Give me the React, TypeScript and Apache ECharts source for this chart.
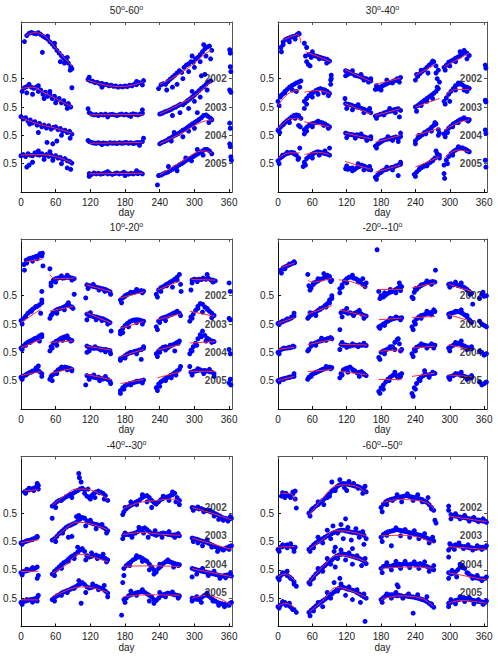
import React, { useEffect, useRef } from "react";
import * as echarts from "echarts";

// ---------------- data ----------------
// Every segment: [firstDay, v, v, v ...] sampled every STEP_DAYS days.
// v = deviation from the year's "0.5" reference line, in hundredths of the tick spacing.
const STEP_DAYS = 4;
const years = ["2002", "2003", "2004", "2005"];
const yearBase = [4, 3, 2, 1];
const yTickValues = [1, 2, 3, 4];
const yTickLabels = ["0.5", "0.5", "0.5", "0.5"];
const xTickValues = [0, 60, 120, 180, 240, 300, 360];
const panelTitles = [["50", "60"], ["30", "40"], ["10", "20"], ["-20", "-10"], ["-40", "-30"], ["-60", "-50"]];

// ---- 50-60 ----
const n50_2002 = [
  [6, 131, 152, 160, 163, 160, 158, 162, 156, 150, 145, 140, 130, 122, 112, 100, 90, 80, 72, 65, 55, 42],
  [116, -3, -8, -9, -14, -13, -18, -17, -21, -20, -25, -23, -27, -26, -30, -27, -29, -26, -28, -23, -25, -19, -21, -14, -15, -7],
  [238, -35, -22, -18, -20, -10, -2, 5, 12, 20, 28, 22, 40, 48, 52, 60, 58, 70, 75, 85, 95, 105, 112, 115, 100],
];
const n50_2002_extra = [[37, 93], [68, 60], [85, 30], [88, 35], [46, 150], [58, 125], [75, 55], [80, 75], [262, -30], [270, -20], [280, 0], [290, 25], [300, 40], [310, 60], [320, 80], [328, 70], [252, -40], [296, 80], [316, 120], [361, 102], [362, 90], [362, 42], [363, 25], [118, 5], [140, -30], [200, -10], [210, -22]];
const n50_2002_fit = [
  [[8, 150], [22, 162], [38, 155], [55, 120], [72, 80], [88, 45]],
  [[115, -5], [140, -20], [170, -28], [195, -22], [212, -10]],
  [[240, -20], [260, 0], [280, 25], [300, 55], [320, 90], [330, 100]],
];
const n50_2003 = [
  [2, 55, 68, 72, 80, 70, 66, 70, 55, 60, 45, 52, 38, 44, 30, 38, 25, 30, 15, 22, 10, 12, 0],
  [118, -20, -25, -28, -27, -30, -26, -28, -25, -29, -27, -26, -28, -30, -27, -25, -28, -26, -29, -27, -24, -26, -28, -25, -22],
  [240, -25, -22, -18, -15, -12, -8, -3, 0, 5, 10, 8, 15, 22, 28, 35, 42, 50, 58, 66, 72, 80, 88, 92],
];
const n50_2003_extra = [[20, 45], [40, 30], [60, 15], [80, -5], [50, 55], [88, 68], [30, 75], [10, 50], [116, -6], [210, -10], [150, -35], [190, -33], [262, -30], [275, -20], [290, -5], [300, 20], [310, 35], [312, 110], [318, 115], [322, 60], [296, 55], [361, 60], [363, 52]];
const n50_2003_fit = [
  [[0, 65], [20, 70], [40, 50], [60, 30], [88, 0]],
  [[118, -28], [210, -26]],
  [[240, -25], [270, 5], [300, 40], [330, 92]],
];
const n50_2004 = [
  [0, 66, 58, 62, 50, 54, 44, 48, 36, 42, 30, 36, 26, 34, 22, 28, 30, 20, 24, 14, 18, 10, 14, 4],
  [118, -22, -25, -27, -28, -26, -29, -27, -28, -30, -26, -28, -27, -29, -26, -28, -27, -25, -28, -26, -29, -27, -25, -26, -22],
  [240, -30, -25, -22, -18, -12, -8, -2, 2, 6, 12, 18, 22, 28, 34, 40, 45, 50, 56, 62, 70, 72, 66, 60],
];
const n50_2004_extra = [[45, -25], [55, -30], [62, -20], [30, 10], [70, 0], [85, -10], [15, 40], [116, -18], [212, -10], [205, -35], [140, -33], [260, -20], [280, -5], [300, 25], [305, 80], [325, 45], [330, 55], [290, 15], [265, 10], [361, 43], [362, 25]];
const n50_2004_fit = [
  [[0, 63], [30, 40], [60, 25], [88, 8]],
  [[118, -28], [160, -27], [210, -25]],
  [[240, -30], [280, 10], [310, 45], [332, 55]],
];
const n50_2005 = [
  [0, 28, 32, 25, 35, 30, 28, 38, 32, 30, 35, 28, 32, 26, 30, 24, 28, 20, 22, 15, 18, 10, 8, 2],
  [118, -35, -38, -33, -36, -34, -37, -35, -32, -36, -34, -38, -35, -33, -36, -34, -30, -35, -37, -34, -36, -33, -35, -32, -36],
  [238, -42, -40, -36, -32, -30, -24, -20, -14, -10, -4, 0, 6, 12, 16, 20, 25, 30, 35, 40, 45, 50, 50, 45, 35],
];
const n50_2005_extra = [[10, -12], [14, -5], [20, 5], [40, 15], [55, 12], [70, 0], [80, -15], [86, -20], [30, 45], [50, 42], [118, -45], [200, -25], [150, -28], [180, -42], [236, -75], [255, -10], [270, -25], [285, 20], [295, 10], [305, 50], [315, 30], [361, 70], [362, 60], [363, 24], [364, 12]];
const n50_2005_fit = [
  [[0, 30], [30, 32], [60, 25], [88, 2]],
  [[118, -36], [210, -34]],
  [[240, -40], [280, 10], [315, 45], [330, 38]],
];

// ---- 30-40 ----
const n30_2002 = [
  [5, 110, 130, 138, 142, 145, 148, 150, 155, 158],
  [46, 125, 110, 85, 75, 82, 80, 78, 75, 72, 70, 68, 62],
  [118, 28, 25, 20, 18, 12, 10, 8, 5, 2, 0, -5, -8],
  [170, -38, -36, -30, -26, -22, -18, -14, -12, -8, -6, -2, 4],
  [240, -5, 8, 18, 26, 32, 40, 48, 55, 60, 45, 30],
  [290, 40, 48, 58, 62, 66, 72, 76, 80, 88, 95, 90, 82],
];
const n30_2002_extra = [[6, 95], [9, 120], [20, 130], [30, 140], [36, 160], [50, 60], [53, 50], [56, 45], [48, 80], [60, 95], [72, 70], [85, 55], [88, 62], [93, 0], [93, 12], [118, 10], [122, 15], [130, 28], [145, 15], [150, -5], [158, -12], [162, 0], [172, -25], [180, -40], [190, -5], [200, -15], [208, 0], [212, -12], [242, 15], [250, 30], [262, 20], [270, 62], [278, 0], [282, -12], [276, 20], [292, 30], [300, 45], [310, 60], [318, 95], [325, 100], [330, 70], [362, 48], [363, 37]];
const n30_2002_fit = [
  [[8, 135], [25, 150], [35, 155], [40, 125]],
  [[48, 95], [70, 78], [92, 60]],
  [[117, 32], [162, -10]],
  [[170, -20], [214, 2]],
  [[240, 12], [275, 50]],
  [[290, 42], [334, 90]],
];
const n30_2003 = [
  [0, 20, 35, 45, 55, 62, 70, 75, 80, 85, 88, 92],
  [46, 20, 30, 40, 48, 52, 58, 62, 65, 62, 60, 55, 48],
  [118, 12, 10, 8, 5, 2, 0, -2, -5, -8, -12, -15, -20],
  [170, -32, -30, -26, -24, -20, -18, -15, -14, -10, -8, -6, -12],
  [240, 0, 5, 12, 18, 24, 30, 36, 42, 48, 55, 65],
  [290, 20, 32, 45, 55, 65, 75, 80, 82, 78, 72, 70, 66],
];
const n30_2003_extra = [[2, 5], [5, 40], [12, 50], [25, 60], [32, 55], [38, 70], [46, -5], [50, 10], [60, 35], [70, 45], [80, 50], [88, 40], [92, 95], [92, 80], [117, 30], [120, -5], [130, -10], [140, 8], [150, -20], [160, -5], [172, -40], [185, -28], [195, -5], [205, -20], [212, -35], [242, -15], [250, 5], [260, 20], [270, 30], [278, 70], [292, 10], [300, 20], [310, 60], [315, 85], [325, 60], [330, 55], [362, 24], [363, 18]];
const n30_2003_fit = [
  [[0, 5], [20, 50], [38, 60]],
  [[46, 52], [70, 58], [92, 48]],
  [[117, 12], [162, -24]],
  [[170, -30], [214, -6]],
  [[240, 0], [282, 30]],
  [[290, 35], [310, 62], [334, 62]],
];
const n30_2004 = [
  [0, 18, 28, 36, 45, 52, 58, 65, 70, 72, 70, 60],
  [46, 20, 28, 35, 40, 42, 45, 48, 46, 44, 40, 35, 30],
  [118, 8, 5, 3, 2, 0, 2, -2, -4, -5, -8, -10, -12],
  [170, -38, -32, -26, -20, -16, -14, -12, -10, -8, -6, -12, -4],
  [240, -20, -10, -4, 2, 10, 15, 20, 28, 35, 40, 20],
  [290, 5, 15, 25, 32, 40, 45, 50, 55, 58, 58, 56, 55],
];
const n30_2004_extra = [[3, 10], [10, 40], [20, 45], [30, 60], [36, 35], [39, 30], [46, 5], [50, 15], [60, 30], [70, 50], [80, 35], [88, 25], [120, -8], [135, -10], [145, 5], [155, -18], [162, -5], [172, -45], [180, -20], [192, -5], [200, -18], [210, -22], [214, 8], [240, -30], [246, 0], [258, 5], [268, 15], [274, 45], [280, 0], [282, 8], [292, -5], [296, 10], [305, 30], [315, 45], [325, 62], [332, 50], [362, 19], [363, 7]];
const n30_2004_fit = [
  [[0, 22], [25, 60], [40, 55]],
  [[46, 48], [90, 30]],
  [[117, 8], [162, -12]],
  [[170, -24], [214, 0]],
  [[240, 0], [282, 25]],
  [[290, 18], [315, 45], [334, 55]],
];
const n30_2005 = [
  [0, 10, 20, 26, 32, 36, 38, 40, 38, 30, 20],
  [46, 5, 18, 25, 32, 36, 40, 42, 40, 38, 36, 34, 30],
  [118, -18, -20, -17, -15, -20, -14, -10, -5, -8, -12, -20, -22],
  [170, -48, -40, -32, -26, -22, -20, -16, -14, -12, -8, -5, -2],
  [238, -38, -30, -22, -15, -10, -6, 0, 5, 12, 20, 35, 30],
  [290, -5, 12, 25, 35, 42, 48, 52, 55, 56, 52, 48, 42],
];
const n30_2005_extra = [[2, 0], [8, 30], [16, 40], [28, 35], [35, 15], [38, 55], [44, -10], [48, -5], [60, 20], [72, 30], [82, 45], [90, 55], [120, -8], [130, -25], [140, 0], [150, -22], [160, -10], [172, -55], [180, -30], [190, -12], [200, -22], [210, -42], [214, 5], [240, -45], [248, -15], [260, -8], [270, 10], [276, 45], [282, 20], [290, -35], [291, -52], [296, 0], [305, 30], [315, 60], [330, 45], [362, 12], [363, -12]];
const n30_2005_fit = [
  [[0, 18], [20, 38], [38, 38]],
  [[46, 32], [70, 40], [90, 32]],
  [[117, 8], [162, -20]],
  [[170, -30], [214, -5]],
  [[240, -12], [282, 24]],
  [[290, 20], [315, 48], [334, 42]],
];

// ---- 10-20 ----
const n10_2002 = [
  [5, 110, 125, 130, 132, 135, 138, 140, 148, 150],
  [52, 45, 55, 60, 62, 64, 62, 63, 65, 64, 62, 60],
  [114, 38, 35, 34, 32, 30, 28, 26, 24, 22, 18, 14],
  [172, -15, -8, -2, 4, 8, 10, 12, 14, 16, 18, 16],
  [234, 5, 20, 28, 32, 38, 42, 48, 52, 58, 65, 75],
  [296, 55, 58, 56, 58, 57, 60, 58, 62, 56, 55, 52],
];
const n10_2002_extra = [[6, 90], [10, 115], [20, 122], [28, 130], [36, 140], [38, 105], [36, 15], [50, 95], [52, 35], [60, 48], [70, 70], [80, 72], [88, 55], [92, 5], [112, -8], [116, 25], [125, 40], [135, 20], [145, 15], [155, 5], [174, -25], [180, 0], [190, 12], [200, 22], [210, 10], [236, -5], [242, 15], [252, 35], [262, 30], [270, 55], [276, 40], [277, 15], [294, 20], [296, 45], [305, 50], [315, 62], [322, 75], [332, 48], [360, 45], [362, 15]];
const n10_2002_fit = [
  [[8, 120], [36, 128]],
  [[50, 75], [58, 60], [92, 62]],
  [[113, 38], [156, 14]],
  [[172, -8], [213, 14]],
  [[236, 20], [275, 52]],
  [[295, 57], [336, 55]],
];
const n10_2003 = [
  [0, 12, 18, 28, 38, 45, 52, 58, 62, 68, 75],
  [52, 30, 42, 48, 52, 55, 58, 62, 68, 64, 60],
  [114, 35, 30, 28, 26, 25, 22, 20, 18, 14, 10, 5],
  [172, -25, -15, -5, 2, 8, 12, 14, 15, 14, 12, 10],
  [234, -10, 10, 18, 22, 25, 28, 32, 36, 40, 42, 38],
  [294, 25, 35, 48, 62, 72, 70, 60, 52, 45, 38, 30],
];
const n10_2003_extra = [[2, 0], [8, 25], [18, 45], [26, 62], [34, 38], [36, 85], [50, 20], [54, 35], [62, 38], [75, 50], [82, 75], [90, 55], [114, 15], [120, 40], [130, 15], [140, 12], [150, 0], [156, -25], [172, -35], [176, -30], [186, -10], [200, 5], [210, 0], [236, -20], [240, 5], [250, 12], [262, 35], [270, 45], [276, 30], [292, 10], [296, 20], [306, 55], [314, 42], [322, 55], [330, 22], [360, 20], [362, 15]];
const n10_2003_fit = [
  [[0, 5], [34, 52]],
  [[50, 45], [90, 62]],
  [[113, 40], [156, 3]],
  [[172, -15], [212, 9]],
  [[236, 15], [276, 36]],
  [[292, 45], [335, 27]],
];
const n10_2004 = [
  [0, 15, 22, 30, 36, 40, 44, 48, 52, 58, 62],
  [52, 20, 32, 38, 42, 48, 52, 55, 50, 46, 42],
  [114, 22, 18, 15, 14, 15, 13, 12, 10, 10, 8, 6],
  [172, -22, -18, -12, -6, -2, 0, 3, 5, 8, 10, 14],
  [234, -5, 5, 12, 18, 20, 16, 22, 26, 30, 35, 40],
  [294, 8, 20, 32, 48, 62, 75, 60, 50, 45, 40, 38],
];
const n10_2004_extra = [[2, 10], [8, 25], [16, 35], [24, 48], [32, 40], [36, 55], [50, 5], [54, 15], [62, 25], [72, 42], [80, 58], [86, 40], [114, 0], [118, 5], [128, 20], [138, 8], [146, 2], [155, -5], [172, -28], [180, -20], [190, 0], [200, -5], [208, -25], [212, 20], [236, -15], [240, 0], [250, 8], [258, 25], [266, 5], [272, 32], [292, -5], [296, 5], [304, 25], [312, 55], [320, 40], [330, 35], [360, 10], [362, -5]];
const n10_2004_fit = [
  [[0, 16], [34, 45]],
  [[50, 35], [90, 40]],
  [[113, 22], [156, 8]],
  [[172, -15], [212, 10]],
  [[236, 8], [275, 27]],
  [[292, 33], [335, 38]],
];
const n10_2005 = [
  [0, 12, 16, 20, 26, 30, 34, 36, 40, 32, 25],
  [52, 15, 22, 30, 38, 42, 45, 48, 46, 44, 40],
  [114, 18, 15, 14, 12, 10, 12, 8, 6, 8, 4, -2],
  [172, -35, -25, -18, -14, -10, -8, -6, -4, -2, 0, 2],
  [234, -25, -12, -4, 2, 8, 12, 18, 22, 28, 34, 40],
  [294, 30, 32, 34, 36, 38, 35, 36, 34, 32, 30, 25],
];
const n10_2005_extra = [[2, 5], [10, 22], [18, 30], [26, 45], [30, 52], [36, 15], [50, 5], [54, 0], [62, 25], [70, 48], [80, 38], [88, 35], [112, -15], [118, 5], [126, 20], [136, 0], [146, 15], [155, -10], [172, -45], [178, -30], [190, -15], [200, -2], [210, -8], [236, -35], [240, -20], [250, 0], [260, 10], [268, 20], [276, 50], [292, 50], [296, 20], [306, 42], [316, 25], [326, 40], [334, 15], [360, -8], [362, 5], [363, -15]];
const n10_2005_fit = [
  [[0, 18], [34, 32]],
  [[50, 25], [90, 44]],
  [[113, 22], [156, 4]],
  [[172, -10], [212, 4]],
  [[236, 10], [276, 32]],
  [[292, 33], [335, 33]],
];

// ---- -20 - -10 ----
const s10_2002 = [
  [5, 90, 98, 102, 106, 110, 114, 116],
  [54, 35, 28, 40, 48, 52, 58, 60, 65, 72, 68, 55],
  [108, 25, 38, 52, 60, 65, 66, 62, 60, 55, 48, 40, 32],
  [176, 15, 0, -5, 2, 8, 12, 15, 20, 25, 30, 32],
  [234, -5, 12, 22, 30, 36, 40, 44, 46, 48, 50, 48],
  [298, 40, 42, 38, 40, 36, 34, 32, 28, 22, 15, 8],
  [352, -10, 5, -2, 0],
];
const s10_2002_extra = [[6, 80], [12, 95], [20, 112], [28, 120], [52, 75], [56, 20], [62, 45], [70, 60], [80, 78], [88, 62], [92, 50], [108, 10], [112, 30], [120, 45], [130, 72], [140, 50], [148, 60], [154, 45], [173, 162], [178, -10], [186, 10], [196, 22], [206, 10], [212, 45], [214, 18], [236, -10], [240, 25], [250, 38], [260, 52], [268, 40], [275, 90], [300, 30], [310, 48], [320, 45], [330, 20], [340, -30], [335, 5], [358, 12]];
const s10_2002_fit = [
  [[6, 100], [29, 115]],
  [[52, 54], [60, 48], [94, 62]],
  [[106, 56], [130, 48], [155, 27]],
  [[176, 22], [216, 22]],
  [[234, 27], [274, 45]],
  [[298, 40], [338, 15]],
];
const s10_2003 = [
  [0, 2, 5, 8, 12, 15, 18, 22, 28],
  [54, 25, 32, 38, 42, 48, 52, 58, 65, 72, 85, 100],
  [110, 40, 45, 42, 38, 40, 35, 38, 42, 40, 35, 30, 28],
  [176, -10, -6, 0, 5, 10, 15, 18, 20, 22, 20, 22],
  [234, -10, 8, 18, 25, 30, 32, 35, 38, 40, 42, 44],
  [298, 35, 38, 40, 42, 44, 42, 38, 32, 25, 15, 5],
  [352, 10, 0, -5, -10],
];
const s10_2003_extra = [[2, -2], [8, 10], [16, 18], [24, 25], [28, 38], [52, 20], [56, 40], [66, 30], [74, 55], [84, 60], [90, 75], [94, 90], [108, -20], [112, 25], [120, 55], [132, 30], [142, 48], [150, 20], [178, -15], [186, -5], [196, 20], [206, 25], [214, 15], [236, -20], [240, 0], [250, 20], [260, 45], [268, 32], [272, 50], [300, 25], [310, 45], [320, 50], [330, 30], [336, 10]];
const s10_2003_fit = [
  [[0, 2], [28, 22]],
  [[52, 35], [94, 65]],
  [[108, 50], [155, 27]],
  [[176, 15], [216, 21]],
  [[234, 22], [274, 27]],
  [[298, 33], [338, 9]],
];
const s10_2004 = [
  [0, 0, 8, 12, 14, 15, 16, 18, 20],
  [54, 10, 22, 30, 34, 38, 40, 42, 45, 48, 50, 48],
  [110, 28, 25, 26, 24, 22, 25, 26, 24, 27, 25, 26, 24],
  [176, -18, 0, 5, 8, 12, 15, 20, 35, 45, 30, 10],
  [234, -5, 10, 18, 22, 25, 26, 24, 22, 24, 26, 25],
  [298, 15, 20, 25, 30, 32, 30, 25, 22, 18, 15, 12],
  [352, 5, 0, -10, -5],
];
const s10_2004_extra = [[2, -5], [10, 15], [20, 18], [26, 22], [52, 5], [58, 30], [66, 25], [76, 50], [84, 42], [92, 52], [108, 10], [112, 35], [120, 18], [130, 30], [140, 20], [150, 32], [178, -25], [186, -5], [196, 20], [204, 10], [210, 48], [214, 5], [236, -15], [240, 5], [250, 30], [260, 15], [268, 30], [272, 15], [300, 5], [310, 35], [320, 40], [330, 10], [338, 20]];
const s10_2004_fit = [
  [[0, 10], [28, 18]],
  [[52, 27], [94, 45]],
  [[108, 28], [155, 26]],
  [[176, 4], [216, 9]],
  [[234, 15], [274, 22]],
  [[298, 27], [338, 9]],
];
const s10_2005 = [
  [0, 0, 3, 6, 8, 10, 12, 14, 25],
  [54, 12, 20, 25, 28, 32, 36, 40, 42, 45, 48, 46],
  [110, 25, 38, 42, 45, 48, 40, 35, 28, 30, 32, 25, 18],
  [176, -38, -25, -15, -5, 5, 12, 18, 22, 15, 20, 25],
  [234, -45, -25, -10, 5, 12, 18, 22, 20, 22, 25, 26],
  [298, 12, 15, 18, 22, 24, 20, 18, 15, 12, 10, 10],
  [352, -5, -15, -10, -5],
];
const s10_2005_extra = [[2, -5], [10, 5], [20, 12], [28, 15], [52, 5], [58, 15], [66, 30], [76, 38], [84, 50], [92, 42], [108, 10], [112, 20], [122, 30], [132, 35], [142, 15], [150, 22], [178, -45], [184, -30], [194, 0], [204, 30], [210, 10], [214, 15], [236, -55], [240, -30], [248, 0], [256, 35], [264, 12], [270, 30], [300, 5], [310, 25], [320, 30], [330, 5], [338, 18]];
const s10_2005_fit = [
  [[0, 0], [28, 15]],
  [[52, 32], [94, 39]],
  [[108, 33], [155, 21]],
  [[176, 4], [216, 4]],
  [[234, 15], [274, 27]],
  [[298, 20], [338, 14]],
];

// ---- -40 - -30 ----
const s30_2002 = [
  [6, 75, 80, 82, 85, 88, 92, 98],
  [54, 25, 32, 40, 45, 48, 52, 58, 62, 66, 70, 75, 80, 85, 88, 82, 60, 55, 62, 70, 75, 78, 74, 70, 62, 45],
  [178, 5, 15, 22, 28, 32, 38, 42, 48, 55, 60, 62, 55, 45, 38, 32, 40, 48, 52, 55, 58, 62, 65, 70, 55, 45],
  [296, 20, 18, 18, 15, 16, 12, 10, 8, 5, 2, -2, -6, -10, -15, -18, -20, -22, -18],
];
const s30_2002_extra = [[8, 70], [14, 88], [22, 80], [28, 105], [30, 85], [100, 140], [101, 125], [104, 110], [110, 70], [116, 85], [120, 50], [128, 55], [136, 72], [144, 50], [88, 55], [70, 45], [60, 20], [54, -18], [176, -5], [180, 20], [190, 40], [200, 30], [210, 65], [218, 40], [226, 20], [232, 35], [246, 60], [256, 45], [262, 75], [268, 40], [274, 30], [298, 10], [306, 22], [316, 5], [326, 10], [334, -10], [342, -22], [350, -25], [358, -28], [362, -12]];
const s30_2002_fit = [
  [[6, 80], [30, 82]],
  [[54, 28], [75, 60], [95, 85], [110, 85], [130, 75], [150, 48]],
  [[176, 15], [200, 35], [220, 42], [250, 48], [262, 50], [275, 40]],
  [[296, 20], [330, 0], [364, -24]],
];
const s30_2003 = [
  [0, -5, -3, 0, 3, 5, 8, 12, 18],
  [54, 5, 10, 18, 28, 35, 42, 50, 55, 58, 62, 66, 72, 78, 85, 82, 72, 68, 65, 62, 60, 58, 55, 50, 45, 38],
  [178, 22, 25, 24, 26, 28, 30, 35, 40, 45, 48, 42, 35, 28, 25, 22, 26, 28, 30, 28, 25, 24, 22, 24, 22, 20],
  [296, 12, 10, 8, 5, 2, 0, -2, -6, -10, -14, -18, -22, -25, -28, -26, -22, -18, -15],
];
const s30_2003_extra = [[2, -10], [10, 2], [20, 8], [28, 15], [60, 0], [72, 30], [82, 15], [88, 18], [96, 88], [100, 92], [112, 55], [120, 75], [130, 45], [140, 60], [148, 30], [176, 10], [180, 30], [192, 15], [204, 50], [212, 30], [220, 15], [232, 38], [244, 15], [256, 35], [266, 15], [272, 28], [298, 0], [306, -5], [314, -15], [322, 5], [330, -20], [340, -35], [350, -30], [360, -28]];
const s30_2003_fit = [
  [[0, -4], [30, 6]],
  [[54, 2], [80, 50], [98, 68], [120, 62], [150, 42]],
  [[176, 24], [210, 32], [240, 26], [275, 22]],
  [[296, 12], [364, -28]],
];
const s30_2004 = [
  [0, -10, -6, -4, -2, 0, 2, 5, 10],
  [54, -15, -5, 2, 10, 18, 25, 30, 38, 45, 50, 55, 62, 70, 75, 65, 50, 45, 48, 50, 52, 48, 45, 42, 40, 35],
  [178, 5, 15, 22, 28, 35, 40, 45, 45, 40, 35, 30, 20, 10, 0, -8, 5, 12, 22, 28, 30, 28, 25, 22, 20, 18],
  [296, 5, 2, 0, -2, -4, -6, -8, -10, -12, -14, -16, -18, -20, -22, -20, -18, -20, -22],
];
const s30_2004_extra = [[2, -18], [10, 2], [20, 8], [28, -30], [30, -20], [58, -20], [70, 5], [82, 30], [92, 40], [98, 80], [102, 72], [112, 35], [122, 60], [132, 40], [142, 55], [148, 28], [176, -45], [178, -20], [188, 15], [200, 50], [210, 30], [222, 0], [230, -15], [240, 20], [254, 35], [264, 10], [272, 15], [296, -25], [304, -15], [314, 5], [324, -20], [334, -5], [344, -30], [354, -28], [362, -12]];
const s30_2004_fit = [
  [[0, -6], [30, -5]],
  [[54, -12], [80, 20], [100, 55], [125, 45], [150, 28]],
  [[176, 12], [220, 14], [275, 12]],
  [[296, 4], [364, -24]],
];
const s30_2005 = [
  [0, -15, -12, -10, -8, -5, -4, -2, 3],
  [54, -5, 2, 8, 12, 18, 22, 25, 28, 32, 36, 40, 45, 50, 55, 48, 40, 36, 38, 40, 42, 38, 35, 32, 25, 18],
  [178, -5, 0, 8, 12, 15, 18, 20, 22, 24, 20, 15, 10, 5, -5, -8, 0, 8, 12, 15, 18, 16, 14, 12, 10, 8],
  [296, 0, -2, -4, -5, 2, 8, 12, 8, 2, -5, -10, -15, -18, -20, -22, -24, -20, -15],
];
const s30_2005_extra = [[2, -22], [10, -5], [20, -14], [28, -10], [30, 10], [58, -10], [70, 10], [80, 20], [92, 35], [100, 62], [104, -18], [112, 20], [124, 50], [134, 30], [144, 45], [150, 5], [174, -60], [180, -15], [190, 25], [200, 10], [210, 30], [222, -10], [230, -18], [240, 20], [250, 5], [262, 22], [272, 0], [296, -10], [304, 5], [312, -15], [322, 18], [332, -10], [342, -25], [352, -30], [360, -25]];
const s30_2005_fit = [
  [[0, -6], [30, -6]],
  [[54, 5], [90, 35], [110, 40], [150, 20]],
  [[176, 5], [220, 12], [275, 10]],
  [[296, 0], [322, 10], [364, -24]],
];

// ---- -60 - -50 ----
const s50_2002 = [
  [6, 60, 65, 70, 62, 55, 68, 50],
  [54, 0, 10, 18, 25, 30, 38, 45, 52, 60, 68, 78, 85, 92, 98, 102, 105, 104, 102, 100, 98, 96, 95, 92, 88, 82, 75],
  [180, 20, 32, 40, 45, 48, 50, 52, 55, 56, 58, 60, 62, 60, 58, 56, 55, 52, 50, 48, 42, 38, 30, 20, 10],
  [298, 10, -5, -8, -10, -12, -14, -15, -16, -18, -20, -20, -22, -24, -24, -26, -28, -28],
];
const s50_2002_extra = [[8, 72], [12, 55], [20, 60], [26, 75], [30, 78], [32, 18], [56, -10], [60, 15], [70, 40], [80, 30], [86, 55], [94, 110], [100, 80], [108, 118], [116, 90], [124, 112], [132, 105], [140, 88], [148, 70], [152, 95], [90, 60], [120, 80], [182, 5], [190, 30], [200, 45], [208, 65], [216, 40], [226, 68], [236, 45], [244, 65], [252, 40], [262, 55], [268, 15], [274, -25], [276, -35], [298, 25], [302, -20], [310, -2], [318, -20], [326, -8], [334, -28], [342, -15], [350, -30], [358, -20], [364, -32]];
const s50_2002_fit = [
  [[6, 70], [22, 70], [30, 45]],
  [[54, -8], [75, 45], [100, 95], [120, 100], [140, 92], [154, 70]],
  [[180, 35], [210, 48], [240, 46], [262, 35], [272, 15]],
  [[298, -10], [364, -30]],
];
const s50_2003 = [
  [0, -28, -20, -18, -15, -12, -14, -18, -25],
  [54, -28, -20, -12, -5, 0, 5, 10, 15, 20, 24, 28, 32, 35, 38, 40, 40, 38, 36, 34, 32, 32, 30, 30, 28, 22, 10],
  [180, 15, 25, 30, 34, 36, 38, 40, 42, 40, 38, 36, 35, 32, 30, 28, 26, 24, 22, 18, 15, 12, 8, 5, 2],
  [298, -30, -20, -15, -12, -14, -16, -18, -18, -20, -22, -22, -24, -24, -22, -20, -20, -22],
];
const s50_2003_extra = [[2, -35], [8, -12], [16, -22], [22, -8], [28, -35], [30, -20], [56, -35], [62, -22], [70, 15], [78, -5], [86, 40], [92, 10], [96, 55], [104, 30], [110, 60], [114, 10], [122, 50], [128, 5], [136, 45], [142, 15], [148, 35], [150, -10], [100, -20], [118, 80], [130, -25], [182, 0], [190, 22], [198, -15], [206, 48], [214, 20], [222, 42], [230, 15], [238, 38], [246, 10], [256, 28], [264, -5], [270, 15], [298, -55], [300, -8], [308, -28], [316, -5], [324, -25], [332, -12], [340, -30], [348, -15], [356, -28], [364, -15]];
const s50_2003_fit = [
  [[0, -20], [28, -18]],
  [[54, -28], [80, 10], [100, 38], [125, 35], [154, 20]],
  [[180, 20], [215, 22], [245, 15], [272, -6]],
  [[298, -18], [364, -28]],
];
const s50_2004 = [
  [0, -28, -22, -15, -12, -20, -25, -32, -42],
  [54, -45, -35, -25, -15, -8, 0, 8, 15, 22, 28, 35, 42, 48, 52, 55, 56, 54, 52, 50, 48, 45, 42, 40, 36, 30, 22],
  [180, 5, 12, 15, 14, 12, 15, 18, 16, 20, 18, 22, 20, 18, 20, 22, 18, 20, 22, 18, 15, 12, 8, 5, 0],
  [298, -10, -15, -12, -8, 0, 10, 15, 5, -10, -18, -22, -25, -28, -30, -32, -32, -30],
];
const s50_2004_extra = [[2, -35], [8, -10], [16, -5], [22, -30], [28, -50], [32, -58], [56, -50], [62, -30], [70, 5], [78, -5], [86, 40], [92, 20], [98, 65], [104, 40], [110, 70], [118, 35], [124, 60], [130, 20], [138, 50], [146, 15], [152, 40], [100, 10], [182, -10], [190, 25], [198, 0], [206, 30], [214, 5], [222, 30], [230, 8], [238, 28], [246, 5], [256, 28], [264, -5], [272, 15], [298, -30], [304, -2], [312, -25], [318, 20], [322, 8], [332, -12], [340, -30], [348, -20], [356, -38], [364, -25]];
const s50_2004_fit = [
  [[0, -25], [12, -15], [30, -40]],
  [[54, -45], [80, 15], [105, 52], [130, 45], [154, 28]],
  [[180, 5], [230, 10], [272, 5]],
  [[298, -10], [364, -36]],
];
const s50_2005 = [
  [0, -30, -25, -18, -15, -22, -28, -35, -40],
  [54, -50, -42, -35, -28, -22, -15, -10, -4, 2, 8, 15, 22, 28, 34, 38, 38, 35, 32, 30, 28, 25, 20, 15, 10, 5, 0],
  [180, -5, 2, 8, 10, 12, 12, 10, 8, 10, 8, 6, 8, 6, 5, 4, 2, 0, -2, -5, -8, -12, -18, -25, -32],
  [298, -18, -15, -12, -8, -6, -4, -2, 0, -2, -4, -6, -8, -10, -12, -12, -14, -15],
];
const s50_2005_extra = [[2, -35], [8, -12], [14, -25], [20, -18], [26, -40], [32, -50], [56, -62], [62, -45], [70, -15], [78, -30], [86, 20], [92, 0], [98, 55], [104, 25], [110, 50], [118, 10], [124, 40], [130, -5], [138, 30], [144, -15], [150, 15], [152, -82], [108, 70], [182, -15], [190, 15], [198, 0], [206, 20], [208, 47], [210, 40], [218, 0], [228, 15], [236, -53], [244, 12], [252, -5], [260, 5], [268, -20], [298, -30], [302, -5], [310, -20], [318, 5], [326, -12], [334, 2], [342, -20], [350, -5], [358, -22], [364, -10]];
const s50_2005_fit = [
  [[0, -30], [12, -18], [30, -35]],
  [[54, -50], [80, -5], [102, 38], [125, 28], [154, 3]],
  [[180, -5], [210, 8], [250, 0], [272, -30]],
  [[298, -18], [320, -8], [364, -18]],
];

const panelData = [
  [[n50_2002, n50_2002_extra, n50_2002_fit], [n50_2003, n50_2003_extra, n50_2003_fit], [n50_2004, n50_2004_extra, n50_2004_fit], [n50_2005, n50_2005_extra, n50_2005_fit]],
  [[n30_2002, n30_2002_extra, n30_2002_fit], [n30_2003, n30_2003_extra, n30_2003_fit], [n30_2004, n30_2004_extra, n30_2004_fit], [n30_2005, n30_2005_extra, n30_2005_fit]],
  [[n10_2002, n10_2002_extra, n10_2002_fit], [n10_2003, n10_2003_extra, n10_2003_fit], [n10_2004, n10_2004_extra, n10_2004_fit], [n10_2005, n10_2005_extra, n10_2005_fit]],
  [[s10_2002, s10_2002_extra, s10_2002_fit], [s10_2003, s10_2003_extra, s10_2003_fit], [s10_2004, s10_2004_extra, s10_2004_fit], [s10_2005, s10_2005_extra, s10_2005_fit]],
  [[s30_2002, s30_2002_extra, s30_2002_fit], [s30_2003, s30_2003_extra, s30_2003_fit], [s30_2004, s30_2004_extra, s30_2004_fit], [s30_2005, s30_2005_extra, s30_2005_fit]],
  [[s50_2002, s50_2002_extra, s50_2002_fit], [s50_2003, s50_2003_extra, s50_2003_fit], [s50_2004, s50_2004_extra, s50_2004_fit], [s50_2005, s50_2005_extra, s50_2005_fit]],
];

// ---------------- layout / style ----------------
const FONT = "'Liberation Sans', Arial, Helvetica, sans-serif";
const GRIDS = [
  { left: 21, top: 22, width: 211, height: 170, titleTop: 4 },
  { left: 278, top: 22, width: 209, height: 170, titleTop: 4 },
  { left: 21, top: 239, width: 211, height: 170, titleTop: 221 },
  { left: 278, top: 239, width: 209, height: 170, titleTop: 221 },
  { left: 21, top: 456.5, width: 211, height: 170, titleTop: 439 },
  { left: 278, top: 456.5, width: 209, height: 170, titleTop: 439 },
];
const LABEL_DAY = 337;
const LABEL_LIFT = [0, 0, 0, 0, 0.2, 0.2];

function buildOption() {
  const grid: any[] = [];
  const xAxis: any[] = [];
  const yAxis: any[] = [];
  const series: any[] = [];
  const title: any[] = [];
  const tickLabelStyle = { fontSize: 10, color: "#222", fontFamily: FONT };

  GRIDS.forEach((g, p) => {
    grid.push({ left: g.left, top: g.top, width: g.width, height: g.height });
    const [a, b] = panelTitles[p];
    title.push({
      text: `{n|${a}}{s|o}{n|-${b}}{s|o}`,
      left: g.left + g.width / 2,
      top: g.titleTop,
      textAlign: "center",
      padding: 0,
      textStyle: {
        fontWeight: "normal",
        rich: {
          n: { fontSize: 10, lineHeight: 13, fontWeight: "normal", color: "#222", fontFamily: FONT },
          s: { fontSize: 7, lineHeight: 6, verticalAlign: "top", fontWeight: "normal", color: "#222", fontFamily: FONT },
        },
      },
    });
    // bottom x
    xAxis.push({
      type: "value", gridIndex: p, min: 0, max: 365, interval: 60, position: "bottom",
      axisLine: { show: true, onZero: false, lineStyle: { color: "#111", width: 1 } },
      axisTick: { show: true, inside: true, length: 3, customValues: xTickValues, lineStyle: { color: "#111" } },
      axisLabel: { show: true, margin: 5, customValues: xTickValues, ...tickLabelStyle },
      splitLine: { show: false },
      name: "day", nameLocation: "middle", nameGap: 14,
      nameTextStyle: { fontSize: 10, color: "#222", fontFamily: FONT },
    });
    // top x (box)
    xAxis.push({
      type: "value", gridIndex: p, min: 0, max: 365, interval: 60, position: "top",
      axisLine: { show: true, onZero: false, lineStyle: { color: "#555", width: 1 } },
      axisTick: { show: true, inside: true, length: 3, customValues: xTickValues, lineStyle: { color: "#555" } },
      axisLabel: { show: false },
      splitLine: { show: false },
    });
    // left y
    yAxis.push({
      type: "value", gridIndex: p, min: 0, max: 6, interval: 1, position: "left",
      axisLine: { show: true, onZero: false, lineStyle: { color: "#111", width: 1 } },
      axisTick: { show: true, inside: true, length: 3, customValues: yTickValues, lineStyle: { color: "#111" } },
      axisLabel: {
        show: true, margin: 4, customValues: yTickValues,
        formatter: (v: number) => yTickLabels[yTickValues.indexOf(Math.round(v))] ?? "",
        ...tickLabelStyle,
      },
      splitLine: { show: false },
    });
    // right y (box)
    yAxis.push({
      type: "value", gridIndex: p, min: 0, max: 6, interval: 1, position: "right",
      axisLine: { show: true, onZero: false, lineStyle: { color: "#555", width: 1 } },
      axisTick: { show: true, inside: true, length: 3, customValues: yTickValues, lineStyle: { color: "#555" } },
      axisLabel: { show: false },
      splitLine: { show: false },
    });

    const xi = p * 2;
    const yi = p * 2;
    panelData[p].forEach(([segs, extra, fits], k) => {
      const base = yearBase[k];
      const pts: number[][] = [];
      (segs as number[][]).forEach((seg) => {
        const start = seg[0];
        for (let i = 1; i < seg.length; i++) pts.push([start + (i - 1) * STEP_DAYS, base + seg[i] / 100]);
      });
      (extra as number[][]).forEach(([d, v]) => pts.push([d, base + v / 100]));
      series.push({
        type: "scatter", xAxisIndex: xi, yAxisIndex: yi, data: pts,
        symbol: "circle", symbolSize: 5, z: 2,
        itemStyle: { color: "#0000ff", opacity: 1 },
        silent: true,
      });
      (fits as number[][][]).forEach((f) => {
        series.push({
          type: "line", xAxisIndex: xi, yAxisIndex: yi,
          data: f.map(([d, v]) => [d, base + v / 100]),
          smooth: f.length > 2 ? 0.4 : false, showSymbol: false, symbol: "none", z: 3,
          lineStyle: { color: "#ff2a2a", width: 1 },
          silent: true,
        });
      });
    });
    // year labels
    series.push({
      type: "scatter", xAxisIndex: xi, yAxisIndex: yi, z: 5, silent: true,
      symbol: "circle", symbolSize: 1, itemStyle: { color: "rgba(0,0,0,0)" },
      data: years.map((y, k) => ({ value: [LABEL_DAY, yearBase[k] + LABEL_LIFT[p]], name: y })),
      label: {
        show: true, position: "inside", formatter: (pp: any) => pp.name,
        fontSize: 10, fontWeight: "bold", color: "#111", fontFamily: FONT,
      },
    });
  });

  return { animation: false, backgroundColor: "#ffffff", title, grid, xAxis, yAxis, series };
}

export default function App() {
  const ref = useRef<HTMLDivElement>(null);
  useEffect(() => {
    if (!ref.current) return;
    const chart = echarts.init(ref.current, undefined, { renderer: "svg" });
    chart.setOption(buildOption() as any);
    return () => chart.dispose();
  }, []);
  return (
    <div
      ref={ref}
      style={{ position: "fixed", left: 0, top: 0, width: 498, height: 660, background: "#fff" }}
    />
  );
}
